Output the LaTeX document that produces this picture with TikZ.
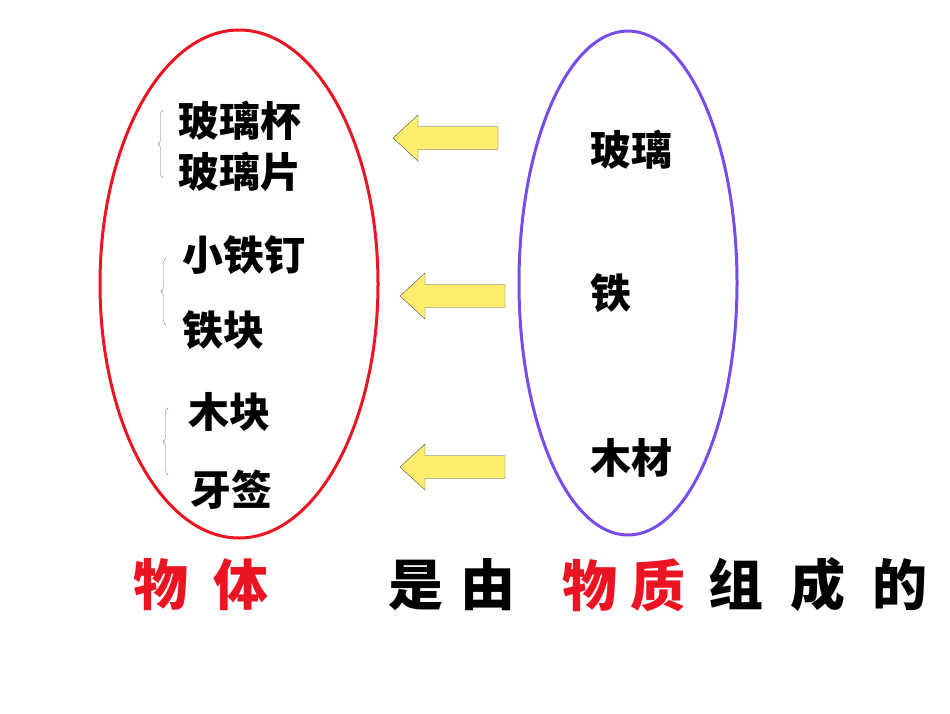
\documentclass[tikz,border=0pt]{standalone}
\usepackage{fontspec}
\newfontfamily\cjk{Noto Sans CJK SC}
\usetikzlibrary{decorations.pathreplacing}
\definecolor{setred}{RGB}{235,20,35}
\definecolor{setviolet}{RGB}{120,75,235}
\definecolor{arrowfill}{RGB}{255,238,110}
\tikzset{
  item/.style={anchor=west,inner sep=0,font=\cjk\bfseries\fontsize{41}{44}\selectfont},
  said/.style={inner sep=0,font=\cjk\bfseries\fontsize{55}{58}\selectfont},
  group/.style={draw=gray,thin,decorate,decoration={brace,amplitude=5pt}},
  back/.pic={code={%
      \draw [fill=arrowfill,draw=black!70,thin]
        (0,0) -- (25,-23) -- (25,-11.5) -- (105,-11.5) -- (105,11.5)
        -- (25,11.5) -- (25,23) -- cycle;
  }}
}
\begin{document}
\begin{tikzpicture}[x=1pt,y=-1pt]
    \useasboundingbox (0,0) rectangle (950,713);

    % coordinates to be reused
    \coordinate (O) at (239,284);
    \coordinate (M) at (628,283);
    \coordinate (A1) at (393,138);
    \coordinate (A2) at (400,296);
    \coordinate (A3) at (400,467);

    % draw figure
    \draw [setred,line width=3pt] (O) ellipse [x radius=139, y radius=254];
    \draw [setviolet,line width=3pt] (M) ellipse [x radius=109, y radius=252];
    \path (A1) pic {back};
    \path (A2) pic {back};
    \path (A3) pic {back};

    % objects
    \node [item] (cup) at (178,121) {玻璃杯};
    \node [item] (pane) at (178,172) {玻璃片};
    \node [item] (nail) at (182,255) {小铁钉};
    \node [item] (lump) at (182,330) {铁块};
    \node [item] (block) at (188,412) {木块};
    \node [item] (pick) at (190,490) {牙签};
    \draw [group] (163,178) -- (163,110);
    \draw [group] (166,325) -- (166,258);
    \draw [group] (168,475) -- (168,408);

    % materials
    \node [item] (glass) at (590,150) {玻璃};
    \node [item] (iron) at (590,293) {铁};
    \node [item] (wood) at (590,458) {木材};

    % add labels
    \node [said,text=setred,anchor=west] (obj) at (133,585) {物\hspace{25pt}体};
    \node [said,anchor=west] (by) at (388,585) {是\hspace{17pt}由};
    \node [said,text=setred,anchor=west] (mat) at (562,585) {物\hspace{13pt}质};
    \node [said,anchor=west] (made) at (708,585) {组\hspace{27pt}成\hspace{27pt}的};
\end{tikzpicture}
\end{document}
